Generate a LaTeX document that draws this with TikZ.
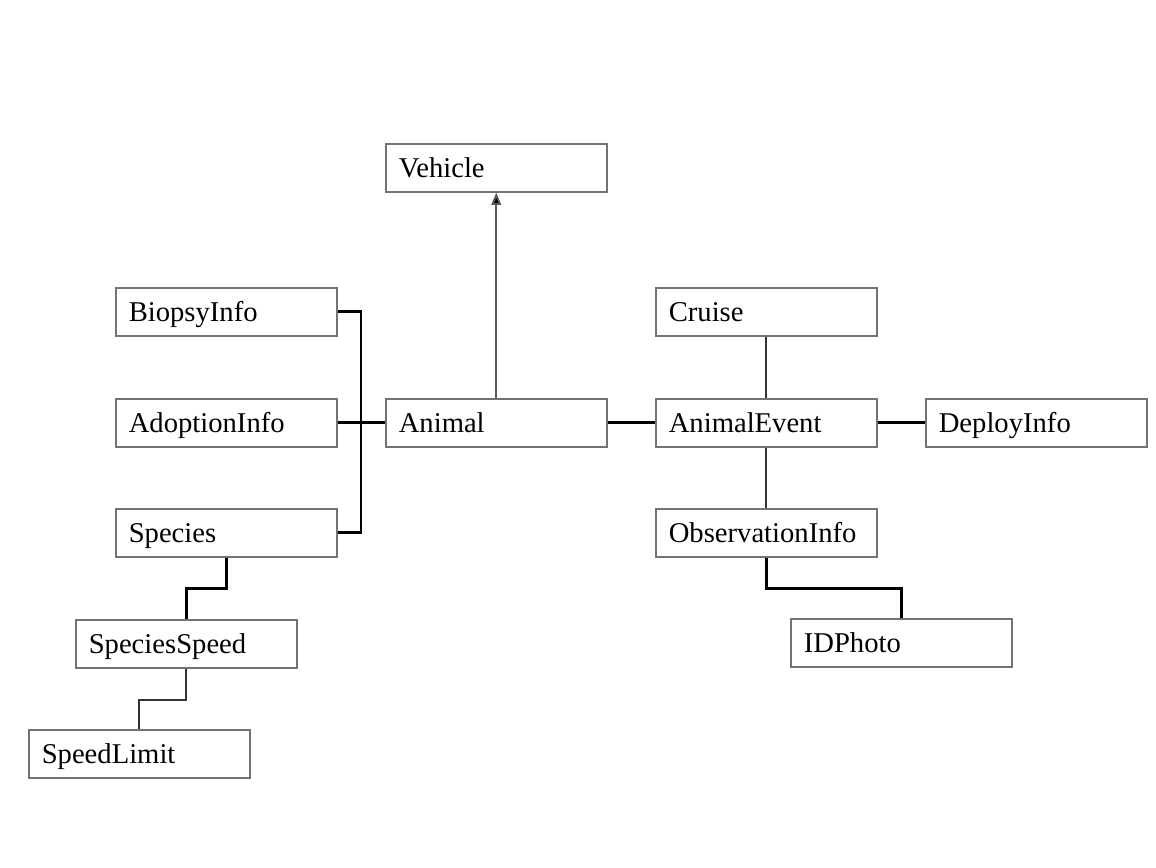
\documentclass[tikz,border=0pt]{standalone}
\usepackage{fontspec}
\setmainfont{Liberation Serif}
\usetikzlibrary{arrows.meta}

\tikzset{
	classbox/.style={draw=black!55, line width=0.9pt, anchor=north west, minimum width=4.42cm, minimum height=0.96cm, inner xsep=0.26cm, text width=3.9cm, text height=11pt, text depth=0pt, align=left, font=\fontsize{16.3}{18}\selectfont},
	heavy/.style={line width=1.6pt, black},
	medium/.style={line width=1.1pt, black!80},
	light/.style={line width=1pt, black!65}
}

\begin{document}
\begin{tikzpicture}[x=0.02cm, y=-0.02cm]
			%%%%% START %%%%%
			
			\useasboundingbox (0, 0) rectangle (1156, 867);
			
			\node[classbox] (veh) at (385, 143) {Vehicle};
			
			\node[classbox] (bio) at (115, 287) {BiopsyInfo};
			\node[classbox] (ado) at (115, 398) {AdoptionInfo};
			\node[classbox] (ani) at (385, 398) {Animal};
			\node[classbox] (spc) at (115, 508) {Species};
			\node[classbox] (spd) at (75, 619) {SpeciesSpeed};
			\node[classbox] (spl) at (28, 729) {SpeedLimit};
			
			\node[classbox] (cru) at (655, 287) {Cruise};
			\node[classbox] (evt) at (655, 398) {AnimalEvent};
			\node[classbox] (dep) at (925, 398) {DeployInfo};
			\node[classbox] (obs) at (655, 508) {ObservationInfo};
			\node[classbox] (idp) at (790, 618) {IDPhoto};
			
			\coordinate (bus) at (361, 0);
			
			\draw[light, -{Triangle[length=7pt, width=5.5pt, fill=black]}] (ani.north) -- (veh.south);
			
			\draw[heavy] (bio.east) -- (bio.east -| bus) -- (spc.east -| bus) -- (spc.east);
			\draw[heavy] (ado.east) -- (ani.west);
			\draw[heavy] (ani.east) -- (evt.west);
			\draw[heavy] (evt.east) -- (dep.west);
			
			\draw[medium] (cru.south) -- (evt.north);
			\draw[medium] (evt.south) -- (obs.north);
			
			\draw[heavy] (spc.south) -- ++(0, 31) -| (spd.north);
			\draw[medium] (spd.south) -- ++(0, 31) -| (spl.north);
			\draw[heavy] (obs.south) -- ++(0, 31) -| (idp.north);
			
			%%%%% END %%%%%
		\end{tikzpicture}
\end{document}
